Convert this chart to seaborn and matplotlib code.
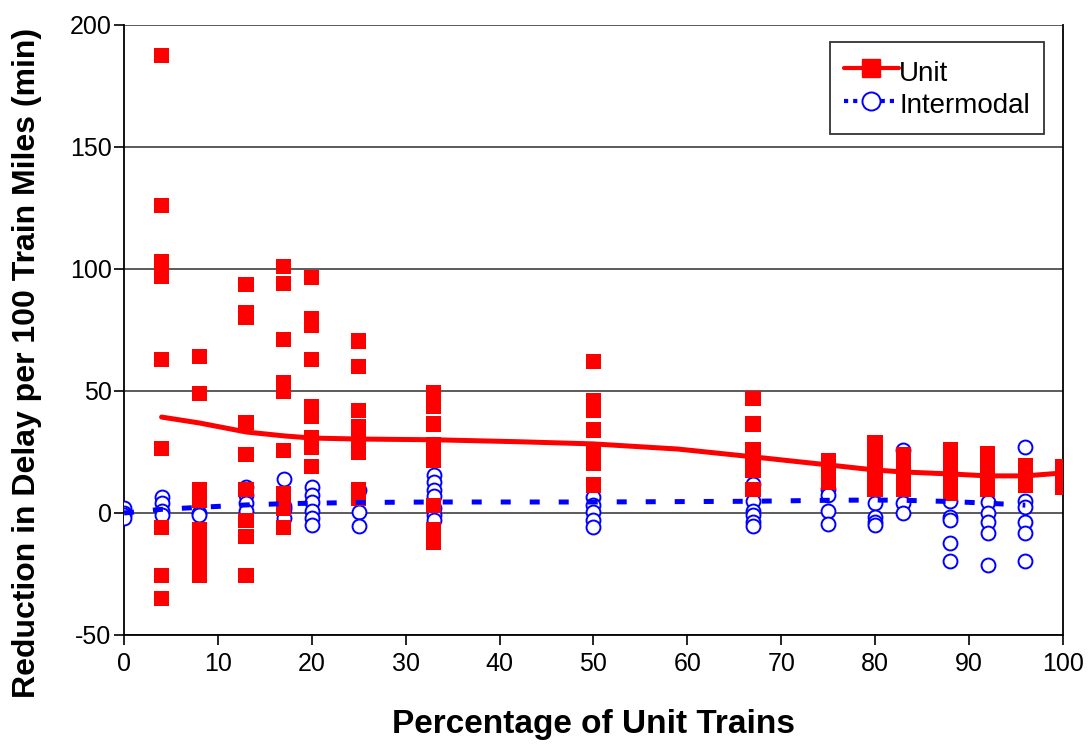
import matplotlib
matplotlib.use("Agg")
import matplotlib.pyplot as plt
import seaborn as sns
import pandas as pd
from matplotlib.lines import Line2D

# Unit train scenarios: (% unit trains, delay reduction)
unit_pct = ([4] * 10 + [8] * 10 + [13] * 9 + [17] * 10 + [20] * 9 + [25] * 9
            + [33] * 9 + [50] * 8 + [67] * 6 + [75] * 4 + [80] * 6 + [83] * 5
            + [88] * 6 + [92] * 5 + [96] * 3 + [100] * 3)
unit_delay = [187.5, 126, 103, 100, 97, 63, 26.5, -6, -25.5, -35,
              64, 49, 9.5, 5, -7, -11, -15, -19, -23, -25.5,
              93.5, 82, 80, 37, 24, 9.5, -3, -9.5, -25.5,
              101, 94, 71, 53.5, 50, 25.5, 8, 5, -6, 2,
              96.5, 79.5, 77, 63, 43.5, 39.5, 31, 27, 19,
              70.5, 60, 42, 35.5, 32, 29, 25, 9.5, 6,
              49.5, 43.5, 36.5, 28, 25, 21.5, 3, -7, -12,
              62, 46, 42, 34, 26, 23, 20.5, 11.5,
              47, 36.5, 26, 22.5, 17.5, 9.5,
              21.5, 18, 15, 12.5,
              29, 25, 21, 17, 13, 9.5,
              24, 20, 16, 12, 9.5,
              26, 22, 18, 14, 10, 8,
              24.5, 20.5, 16.5, 12.5, 9.5,
              19.5, 15.5, 11.5,
              19, 15, 10.5]

# Intermodal scenarios
inter_pct = ([0] * 4 + [4] * 4 + [8] * 2 + [13] * 4 + [17] * 4 + [20] * 6
             + [25] * 3 + [33] * 7 + [50] * 5 + [67] * 6 + [75] * 4 + [80] * 4
             + [83] * 3 + [88] * 5 + [92] * 5 + [96] * 6)
inter_delay = [2, 0, -1, -2,
               6.5, 4, 1, -1,
               0, -1,
               10.5, 7.5, 4, 1,
               14, 3, 1.5, -2,
               10.5, 7.5, 4.5, 1, -2, -5,
               9.5, 0.5, -5.5,
               15.5, 12.5, 9.5, 7, 2, -1, -3,
               6.5, 3.3, 0.4, -3, -5.7,
               12, 5, 1, -1, -3.5, -5.5,
               10, 7.5, 1, -4.5,
               4, -1.5, -3.5, -5,
               26, 4, 0,
               5, -1.5, -3, -12.5, -19.5,
               4.5, 0, -3.5, -8, -21.5,
               27, 5, 2.5, -3.5, -8, -19.5]

# trend lines
unit_trend_x = [4, 8, 13, 17, 20, 25, 33, 42, 50, 59, 67, 75, 80, 83, 88, 92, 96, 100]
unit_trend_y = [39.3, 36.9, 33.2, 31.6, 30.7, 30.3, 30.0, 29.2, 28.3, 26.2, 23.0,
                19.7, 17.6, 16.8, 16.0, 15.2, 15.2, 16.4]
inter_trend_x = [0, 4, 8, 13, 17, 20, 25, 33, 50, 67, 75, 80, 83, 88, 92, 96]
inter_trend_y = [0, 1.5, 2.3, 3.3, 3.8, 4.0, 4.3, 4.5, 4.5, 4.8, 5.2, 5.3, 5.2,
                 4.7, 4.0, 3.2]

sns.set_style("white")
plt.rcParams['font.family'] = ['Liberation Sans', 'DejaVu Sans']
plt.rcParams['axes.unicode_minus'] = False
plt.rcParams['text.color'] = 'black'
plt.rcParams['axes.labelcolor'] = 'black'
plt.rcParams['xtick.color'] = 'black'
plt.rcParams['ytick.color'] = 'black'

fig = plt.figure(figsize=(10.91, 7.46), dpi=100)
ax = fig.add_axes([0.1137, 0.1488, 0.8605, 0.8178])

unit_df = pd.DataFrame({'pct': unit_pct, 'delay': unit_delay})
inter_df = pd.DataFrame({'pct': inter_pct, 'delay': inter_delay})

sns.scatterplot(data=inter_df, x='pct', y='delay', ax=ax, marker='o', s=100,
                facecolor='white', edgecolor='#0000FF', linewidth=1.4, zorder=3)
sns.scatterplot(data=unit_df, x='pct', y='delay', ax=ax, marker='s', s=120,
                color='#FF0000', edgecolor='none', linewidth=0, zorder=4)
sns.lineplot(x=unit_trend_x, y=unit_trend_y, ax=ax, color='#FF0000', lw=3.6,
             zorder=5)
sns.lineplot(x=inter_trend_x, y=inter_trend_y, ax=ax, color='#0000FF', lw=3.6,
             zorder=5, dashes=False)
ax.lines[-1].set_dashes((2, 3.8))

ax.set_xlim(0, 100)
ax.set_ylim(-50, 200)
ax.set_xticks(range(0, 101, 10))
ax.set_yticks(range(-50, 201, 50))
ax.yaxis.grid(True, color='#404040', lw=1.2)
ax.set_axisbelow(True)
for s in ['left', 'bottom', 'right']:
    ax.spines[s].set_color('black')
    ax.spines[s].set_linewidth(1.3)
ax.spines['top'].set_visible(False)
ax.tick_params(axis='both', direction='out', length=7, width=1.2,
               labelsize=18, color='black', labelcolor='black',
               left=True, bottom=True)
ax.tick_params(axis='y', pad=2)
ax.tick_params(axis='x', pad=5)

ax.set_xlabel('Percentage of Unit Trains', fontsize=24, fontweight='bold',
              labelpad=24)
ax.set_ylabel('Reduction in Delay per 100 Train Miles (min)', fontsize=23,
              fontweight='bold')
ax.yaxis.set_label_coords(-0.1035, 0.446)
ax.yaxis.label.set_va('center')

handles = [
    Line2D([], [], color='#FF0000', lw=3, marker='s', markersize=13,
           markeredgecolor='#FF0000'),
    Line2D([], [], color='#0000FF', lw=3, ls=(0, (1, 1.2)), marker='o',
           markersize=13, markerfacecolor='white', markeredgecolor='#0000FF',
           markeredgewidth=1.4),
]
leg = ax.legend(handles, ['Unit', 'Intermodal'], loc='upper right',
                bbox_to_anchor=(0.9797, 0.972), borderaxespad=0, fontsize=20,
                frameon=True, fancybox=False, edgecolor='black',
                handlelength=2.0, handleheight=1.35, handletextpad=0.0,
                borderpad=0.5, labelspacing=0.05)
leg.get_frame().set_linewidth(1.3)

fig.savefig('out.png', dpi=100)
